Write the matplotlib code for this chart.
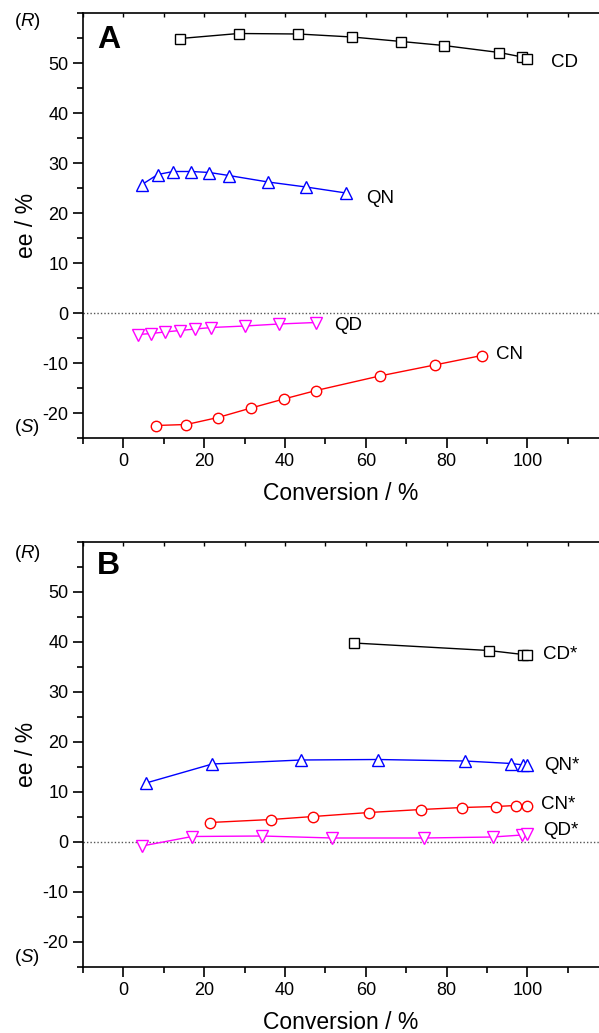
import matplotlib
matplotlib.use("Agg")
import matplotlib.pyplot as plt
from matplotlib.ticker import MultipleLocator

plt.rcParams['font.family'] = ['Liberation Sans', 'DejaVu Sans']
plt.rcParams['mathtext.fontset'] = 'custom'
plt.rcParams['mathtext.rm'] = 'Liberation Sans'
plt.rcParams['mathtext.it'] = 'Liberation Sans:italic'
plt.rcParams['axes.unicode_minus'] = False

# ---------------- Panel A data ----------------
cd_x = [14.1, 28.5, 43.3, 56.6, 68.8, 79.3, 93.0, 98.7, 99.8]
cd_y = [54.9, 55.9, 55.8, 55.2, 54.3, 53.5, 52.1, 51.2, 50.8]

qn_x = [4.6, 8.5, 12.3, 16.8, 21.3, 26.1, 35.8, 45.2, 55.1]
qn_y = [25.7, 27.7, 28.3, 28.3, 28.1, 27.5, 26.2, 25.2, 24.0]

qd_x = [3.7, 6.9, 10.2, 14.0, 17.8, 21.8, 30.1, 38.5, 47.6]
qd_y = [-4.3, -4.1, -3.8, -3.5, -3.2, -2.9, -2.6, -2.2, -1.9]

cn_x = [8.0, 15.6, 23.4, 31.6, 39.7, 47.7, 63.4, 77.0, 88.7]
cn_y = [-22.5, -22.3, -20.9, -19.0, -17.2, -15.5, -12.6, -10.4, -8.5]

# ---------------- Panel B data ----------------
cds_x = [57.0, 90.4, 98.9, 99.9]
cds_y = [39.8, 38.3, 37.5, 37.5]

qns_x = [5.6, 22.0, 44.0, 62.9, 84.5, 96.0, 99.0, 99.9]
qns_y = [11.8, 15.6, 16.4, 16.5, 16.2, 15.7, 15.4, 15.4]

cns_x = [21.4, 36.6, 47.0, 60.8, 73.7, 83.9, 92.2, 97.1, 99.8]
cns_y = [3.9, 4.5, 5.1, 5.9, 6.5, 6.9, 7.1, 7.3, 7.3]

qds_x = [4.6, 17.0, 34.3, 51.7, 74.5, 91.4, 98.7, 99.9]
qds_y = [-0.8, 1.1, 1.2, 0.8, 0.8, 1.0, 1.4, 1.6]

x_ticks = [0, 20, 40, 60, 80, 100]
y_ticks = [-20, -10, 0, 10, 20, 30, 40, 50]

W, H = 599, 1033
fig = plt.figure(figsize=(W / 100, H / 100), dpi=100)

def make_axes(top_px):
    bottom_px = top_px + 425
    ax = fig.add_axes([83 / W, 1 - bottom_px / H, (W - 83) / W, 425 / H])
    ax.set_xlim(-10, 117.7)
    ax.set_ylim(-25, 60)
    ax.spines['right'].set_visible(False)
    for s in ['left', 'bottom', 'top']:
        ax.spines[s].set_linewidth(1.2)
    ax.set_xticks(x_ticks)
    ax.set_yticks(y_ticks)
    ax.xaxis.set_minor_locator(MultipleLocator(10))
    ax.yaxis.set_minor_locator(MultipleLocator(5))
    ax.tick_params(axis='both', which='major', direction='out', length=7, width=1.2,
                   labelsize=13, top=False, right=False)
    ax.tick_params(axis='both', which='minor', direction='out', length=4, width=1.2,
                   top=False, right=False)
    # top inward ticks every 10
    sec = ax.secondary_xaxis('top')
    sec.set_xticks(list(range(-10, 120, 10)))
    sec.tick_params(direction='in', length=3, width=1.0, labeltop=False)
    sec.spines['top'].set_visible(False)
    ax.axhline(0, color='#555555', linestyle=(0, (1, 1.5)), linewidth=1.0, zorder=1)
    ax.set_xlabel('Conversion / %', fontsize=16.5, labelpad=9)
    ax.set_ylabel('ee / %', fontsize=16.5, labelpad=3)
    return ax

def series(ax, x, y, color, marker, ms):
    ax.plot(x, y, color=color, linewidth=1.0, marker=marker, markersize=ms,
            markerfacecolor='white', markeredgecolor=color, markeredgewidth=1.0, zorder=3)

axA = make_axes(13)
series(axA, cd_x, cd_y, 'black', 's', 6.5)
series(axA, qn_x, qn_y, '#0000FF', '^', 8)
series(axA, qd_x, qd_y, '#FF00FF', 'v', 8)
series(axA, cn_x, cn_y, '#FF0000', 'o', 7.5)
axA.text(105.7, 50.1, 'CD', fontsize=13.5, va='center', ha='left')
axA.text(60.1, 22.9, 'QN', fontsize=13.5, va='center', ha='left')
axA.text(52.1, -2.6, 'QD', fontsize=13.5, va='center', ha='left')
axA.text(92.3, -8.3, 'CN', fontsize=13.5, va='center', ha='left')
axA.text(-6.6, 53.1, 'A', fontsize=23, fontweight='bold', va='baseline', ha='left')

axB = make_axes(542)
series(axB, cds_x, cds_y, 'black', 's', 6.5)
series(axB, qns_x, qns_y, '#0000FF', '^', 8)
series(axB, cns_x, cns_y, '#FF0000', 'o', 7.5)
series(axB, qds_x, qds_y, '#FF00FF', 'v', 8)
axB.text(103.9, 37.5, 'CD*', fontsize=13.5, va='center', ha='left')
axB.text(104.2, 15.3, 'QN*', fontsize=13.5, va='center', ha='left')
axB.text(103.4, 7.5, 'CN*', fontsize=13.5, va='center', ha='left')
axB.text(103.9, 2.3, 'QD*', fontsize=13.5, va='center', ha='left')
axB.text(-6.6, 53.5, 'B', fontsize=23, fontweight='bold', va='baseline', ha='left')

for yR, yS in [(22, 428), (553, 957)]:
    fig.text(27 / W, 1 - yR / H, r'($\mathit{R}$)', fontsize=13.5, ha='center', va='center')
    fig.text(27 / W, 1 - yS / H, r'($\mathit{S}$)', fontsize=13.5, ha='center', va='center')

fig.savefig('out.png', dpi=100)
